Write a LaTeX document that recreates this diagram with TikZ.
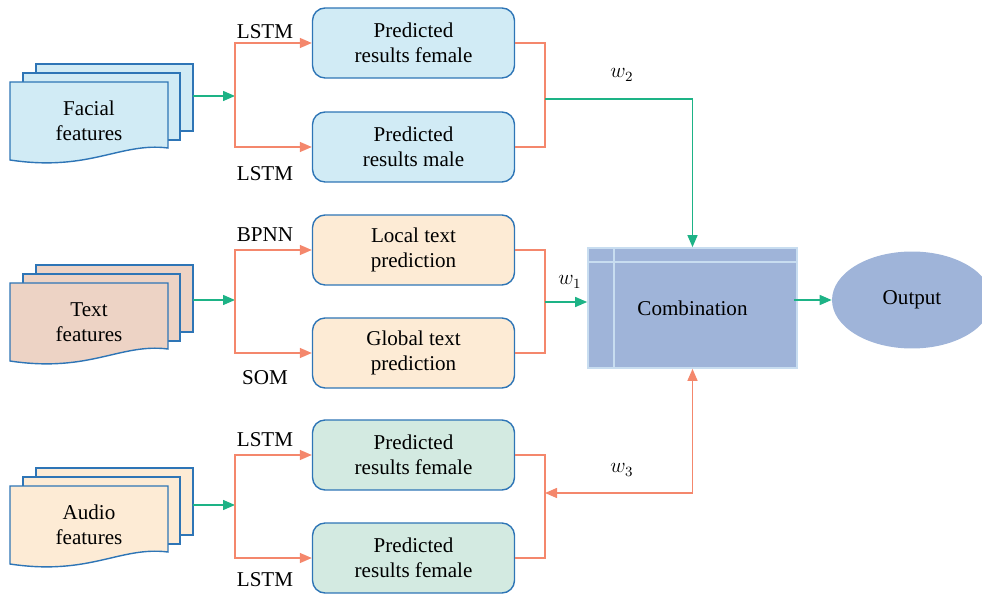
\documentclass[tikz,border=0pt]{standalone}
\usepackage{fontspec}
\setmainfont{Liberation Serif}
\usetikzlibrary{arrows.meta,shapes.geometric}

\definecolor{grnline}{HTML}{1DB386}
\definecolor{orgline}{HTML}{F4876C}
\definecolor{bordblue}{HTML}{2E75B6}
\definecolor{lblue}{HTML}{D1EBF5}
\definecolor{lpeach}{HTML}{FDEBD5}
\definecolor{lpink}{HTML}{EDD3C5}
\definecolor{lgreen}{HTML}{D3EAE1}
\definecolor{combfill}{HTML}{9FB4D9}
\definecolor{combedge}{HTML}{C8DDF0}

\tikzset{
  grn/.style={draw=grnline,line width=0.8pt,-{Triangle[length=0.24cm,width=0.2cm]}},
  org/.style={draw=orgline,line width=0.8pt},
  orgarr/.style={org,-{Triangle[length=0.24cm,width=0.2cm]}},
  predbox/.style={draw=bordblue,line width=0.8pt,rounded corners=0.25cm,
    minimum width=4.04cm,minimum height=1.4cm,align=center},
  docpage/.style={draw=bordblue,line width=0.8pt},
  lbl/.style={inner sep=0pt}
}

% stack of three pages, front page top at (10,#1)
\newcommand\docstack[4]{%
  \fill[#2,docpage] (36,#1-18) rectangle (193,#1+49);
  \fill[#2,docpage] (23,#1-9) rectangle (180,#1+58);
  \fill[#2,docpage] (10,#1) -- (168,#1) -- (168,#1+66)
     .. controls (120,#1+60) and (90,#1+90) .. (10,#1+78) -- cycle;
  \node[align=center,lbl] (#3) at (89,#1+39) {#4};
  \coordinate (#3r) at (193,#1+14);
}

\begin{document}
\begin{tikzpicture}[x=0.02cm,y=-0.02cm,font=\fontsize{12}{14.5}\selectfont]
  \useasboundingbox (0,0) rectangle (982,597);

  %Документы
  \docstack{82}{lblue}{facial}{Facial\\features}
  \docstack{283}{lpink}{textf}{Text\\features}
  \docstack{486}{lpeach}{audio}{Audio\\features}

  %Прогнозы
  \node[predbox,fill=lblue] (fem1) at (413.5,43) {Predicted\\results female};
  \node[predbox,fill=lblue] (male1) at (413.5,147) {Predicted\\results male};
  \node[predbox,fill=lpeach] (local) at (413.5,250) {Local text\\prediction};
  \node[predbox,fill=lpeach] (global) at (413.5,353) {Global text\\prediction};
  \node[predbox,fill=lgreen] (fem2) at (413.5,455) {Predicted\\results female};
  \node[predbox,fill=lgreen] (fem3) at (413.5,558) {Predicted\\results female};

  %Комбинация и выход
  \node[draw=combedge,line width=1pt,fill=combfill,minimum width=4.18cm,
    minimum height=2.4cm] (comb) at (692.5,308) {Combination};
  \draw[combedge,line width=1pt] ([yshift=-0.3cm]comb.north west) -- ([yshift=-0.3cm]comb.north east);
  \draw[combedge,line width=1pt] ([xshift=0.54cm]comb.north west) -- ([xshift=0.54cm]comb.south west);
  \node[ellipse,fill=combfill,minimum width=3.2cm,minimum height=1.94cm] (out) at (912,300) {Output};

  %Точки разветвления
  \coordinate (s1) at (235,96);
  \coordinate (s2) at (235,300);
  \coordinate (s3) at (235,505);
  \coordinate (m1) at (545,99);
  \coordinate (m2) at (545,302);
  \coordinate (m3) at (545,493);

  %Входы
  \draw[grn] (s1 -| facialr) -- (s1);
  \draw[grn] (s2 -| textfr) -- (s2);
  \draw[grn] (s3 -| audior) -- (s3);
  \draw[orgarr] (s1) |- (fem1.west);
  \draw[orgarr] (s1) |- (male1.west);
  \draw[orgarr] (s2) |- (local.west);
  \draw[orgarr] (s2) |- (global.west);
  \draw[orgarr] (s3) |- (fem2.west);
  \draw[orgarr] (s3) |- (fem3.west);

  %Методы
  \node[lbl] (l1) at (265,32) {LSTM};
  \node[lbl] (l2) at (265,174) {LSTM};
  \node[lbl] (l3) at (265,235) {BPNN};
  \node[lbl] (l4) at (265,378) {SOM};
  \node[lbl] (l5) at (265,440) {LSTM};
  \node[lbl] (l6) at (265,580) {LSTM};

  %Объединение
  \draw[org] (fem1.east) -| (m1) |- (male1.east);
  \draw[org] (local.east) -| (m2) |- (global.east);
  \draw[org] (fem2.east) -| (m3) |- (fem3.east);
  \draw[grn] (m1) -| (comb.north);
  \draw[grn] (m2) -- (m2 -| comb.west);
  \draw[org,{Triangle[length=0.24cm,width=0.2cm]}-{Triangle[length=0.24cm,width=0.2cm]}] (m3) -| (comb.south);
  \draw[grn] ([xshift=-0.08cm]out.west -| comb.east) -- (out.west);

  %Веса
  \node[lbl] (w2) at (622,75) {$w_2$};
  \node[lbl] (w1) at (570,282) {$w_1$};
  \node[lbl] (w3) at (622,470) {$w_3$};
\end{tikzpicture}
\end{document}
